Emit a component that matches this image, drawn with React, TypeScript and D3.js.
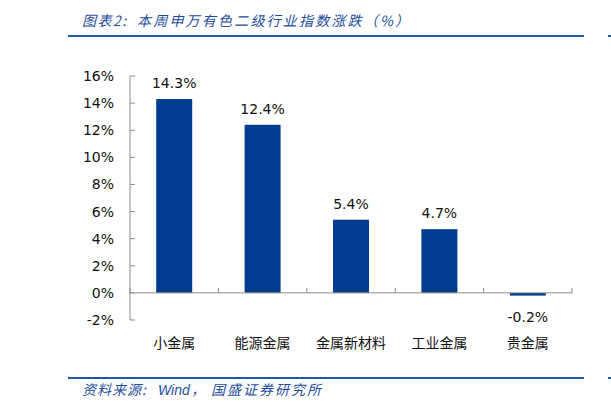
import React from "react";
import * as d3 from "d3";

const categories = ["小金属", "能源金属", "金属新材料", "工业金属", "贵金属"];
const values = [14.3, 12.4, 5.4, 4.7, -0.2];
const yTicks = [-2, 0, 2, 4, 6, 8, 10, 12, 14, 16];
const titleParts = ["图表2:", "本周申万有色二级行业指数涨跌（%）"];
const sourceParts = ["资料来源:", "Wind", "，", "国盛证券研究所"];

const W = 611;
const H = 410;
const left = 130;
const right = 572;
const top = 76;
const bottom = 320;

export default function App() {
  const x = d3.scaleBand<string>().domain(categories).range([left, right]).paddingInner(0).paddingOuter(0);
  const y = d3.scaleLinear().domain([-2, 16]).range([bottom, top]);
  const barW = 36;
  const y0 = y(0);
  const axisColor = "#8c8c8c";
  const blue = "#003d8f";
  const lineBlue = "#2257a8";
  const textBlue = "#1f4e9c";
  const numFont = "'DejaVu Sans', Verdana, sans-serif";
  const latin = "'Liberation Sans', Arial, sans-serif";
  const cjk = "'Noto Sans CJK SC', sans-serif";

  return (
    <svg width={W} height={H} style={{ position: "absolute", left: 0, top: 0, background: "#fff" }}>
      <text y={26} fontFamily={cjk} fontSize={14} fontStyle="italic" fill={textBlue}>
        <tspan x={82} letterSpacing={1.5}>{titleParts[0]}</tspan>
        <tspan x={137} letterSpacing={2.2}>{titleParts[1]}</tspan>
      </text>
      <line x1={68} x2={584} y1={36} y2={36} stroke={lineBlue} strokeWidth={2} />
      <line x1={608} x2={611} y1={36} y2={36} stroke={lineBlue} strokeWidth={2} />

      {/* y axis */}
      <line x1={left} x2={left} y1={top} y2={bottom} stroke={axisColor} strokeWidth={1} />
      {yTicks.map((t) => (
        <g key={t}>
          <line x1={left} x2={left + 5} y1={y(t)} y2={y(t)} stroke={axisColor} strokeWidth={1} />
          <text x={114} y={y(t)} dy="0.36em" textAnchor="end" fontFamily={numFont} fontSize={14} fill="#111">
            {`${t}%`}
          </text>
        </g>
      ))}

      {/* bars */}
      {categories.map((c, i) => {
        const v = values[i];
        const cx = (x(c) as number) + x.bandwidth() / 2;
        const yv = y(v);
        const yTop = Math.min(yv, y0);
        const h = Math.abs(yv - y0);
        return (
          <g key={c}>
            <rect x={cx - barW / 2} y={yTop} width={barW} height={h} fill={blue} />
            <text
              x={cx}
              y={v >= 0 ? yv - 11 : yv + 26}
              textAnchor="middle"
              fontFamily={numFont}
              fontSize={14}
              fill="#111"
            >
              {`${v.toFixed(1)}%`}
            </text>
            <text x={cx} y={343} dy="0.36em" textAnchor="middle" fontFamily={cjk} fontSize={14} fill="#111">
              {c}
            </text>
          </g>
        );
      })}

      {/* x axis */}
      <line x1={left} x2={right} y1={y0} y2={y0} stroke={axisColor} strokeWidth={1} />
      {[...categories.map((c) => x(c) as number), right].map((px, i) => (
        <line key={i} x1={px} x2={px} y1={y0} y2={y0 - 5} stroke={axisColor} strokeWidth={1} />
      ))}

      <line x1={68} x2={584} y1={378} y2={378} stroke={lineBlue} strokeWidth={2} />
      <line x1={608} x2={611} y1={378} y2={378} stroke={lineBlue} strokeWidth={2} />
      <text y={395} fontSize={14} fontStyle="italic" fill={textBlue}>
        <tspan x={82} fontFamily={cjk} letterSpacing={1}>{sourceParts[0]}</tspan>
        <tspan x={158} fontFamily={latin} fontSize={14}>{sourceParts[1]}</tspan>
        <tspan x={191} fontFamily={cjk}>{sourceParts[2]}</tspan>
        <tspan x={211} fontFamily={cjk} letterSpacing={2}>{sourceParts[3]}</tspan>
      </text>
    </svg>
  );
}
